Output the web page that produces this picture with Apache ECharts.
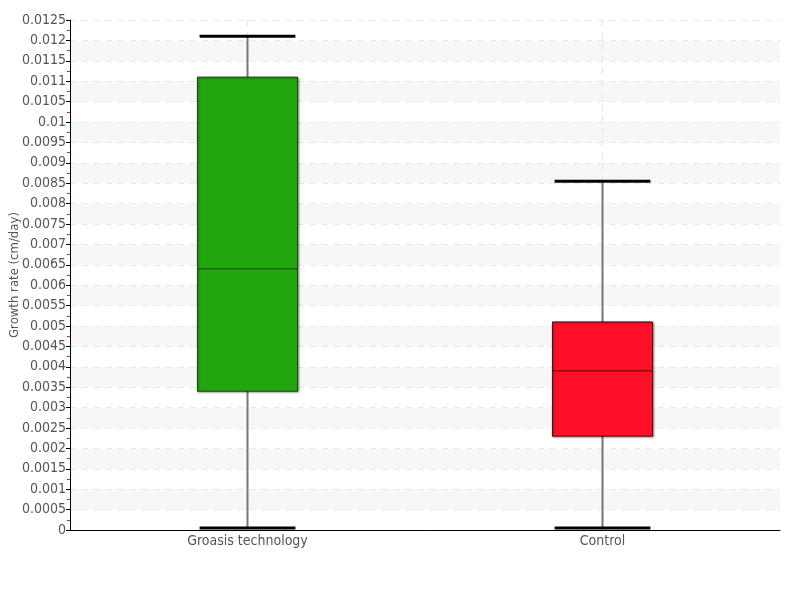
<!DOCTYPE html>
<html><head><meta charset="utf-8">
<script src="https://cdn.jsdelivr.net/npm/echarts@6/dist/echarts.min.js"></script>
<style>html,body{margin:0;padding:0;background:#fff}#c{width:800px;height:600px}</style>
</head><body><div id="c"></div>
<script>
const categories = ['Groasis technology', 'Control'];
// [min, Q1, median, Q3, max]
const groasisStats = [0.00005, 0.0034, 0.0064, 0.0111, 0.0121];
const controlStats = [0.00005, 0.0023, 0.0039, 0.0051, 0.00855];
const boxColors = ['#22a50f', '#ff0f28'];
const boxBorders = ['#134d08', '#4a0a0f'];
const yAxisName = 'Growth rate (cm/day)';

const FONT = "'Liberation Sans Narrow', 'DejaVu Sans Condensed', 'Roboto', sans-serif";
const statsList = [groasisStats, controlStats];
const seriesData = statsList.map((s, i) => [i].concat(s));

const chart = echarts.init(document.getElementById('c'), null, {renderer: 'canvas'});
chart.setOption({
  animation: false,
  backgroundColor: '#fff',
  grid: {left: 70, right: 20, top: 20, bottom: 70, containLabel: false, outerBoundsMode: 'none'},
  xAxis: {
    type: 'category',
    data: categories,
    axisLine: {lineStyle: {color: '#000', width: 1}},
    axisTick: {show: false},
    axisLabel: {color: '#555', fontFamily: FONT, fontSize: 14, margin: 4},
    splitLine: {show: true, alignWithLabel: true, lineStyle: {color: '#e6e6e6', type: [6, 6]}}
  },
  yAxis: {
    type: 'value',
    min: 0, max: 0.0125, interval: 0.0005,
    name: yAxisName,
    nameLocation: 'middle',
    nameGap: 49,
    nameMoveOverlap: false,
    nameTextStyle: {color: '#555', fontFamily: FONT, fontSize: 13},
    axisLine: {show: true, lineStyle: {color: '#000', width: 1}},
    axisTick: {show: true, length: 4, lineStyle: {color: '#000'}},
    minorTick: {show: true, splitNumber: 2, length: 3, lineStyle: {color: '#e0202a'}},
    axisLabel: {color: '#555', fontFamily: FONT, fontSize: 14, margin: 4},
    splitLine: {show: true, lineStyle: {color: '#e8e8e8', type: [6, 6]}},
    splitArea: {show: true, areaStyle: {color: ['#ffffff', '#f7f7f7']}}
  },
  series: [{
    type: 'custom',
    data: seriesData,
    encode: {x: 0, y: [1, 2, 3, 4, 5]},
    z: 3,
    renderItem: function (params, api) {
      const idx = api.value(0);
      const band = api.size([1, 0])[0];
      const bw = band * 0.282;
      const cw = band * 0.27;
      const pMin = api.coord([idx, api.value(1)]);
      const pQ1 = api.coord([idx, api.value(2)]);
      const pMed = api.coord([idx, api.value(3)]);
      const pQ3 = api.coord([idx, api.value(4)]);
      const pMax = api.coord([idx, api.value(5)]);
      const cx = pMin[0];
      const i = params.dataIndex;
      return {
        type: 'group',
        children: [
          {type: 'line', shape: {x1: cx, y1: pMin[1], x2: cx, y2: pMax[1]},
           style: {stroke: '#777', lineWidth: 2}},
          {type: 'line', shape: {x1: cx - cw / 2, y1: pMax[1], x2: cx + cw / 2, y2: pMax[1]},
           style: {stroke: '#000', lineWidth: 3}},
          {type: 'line', shape: {x1: cx - cw / 2, y1: pMin[1], x2: cx + cw / 2, y2: pMin[1]},
           style: {stroke: '#000', lineWidth: 3}},
          {type: 'rect', shape: {x: cx - bw / 2, y: pQ3[1], width: bw, height: pQ1[1] - pQ3[1]},
           style: {fill: boxColors[i], stroke: boxBorders[i], lineWidth: 1,
                   shadowColor: 'rgba(0,0,0,0.35)', shadowBlur: 2, shadowOffsetX: 1, shadowOffsetY: 1}},
          {type: 'line', shape: {x1: cx - bw / 2, y1: pMed[1], x2: cx + bw / 2, y2: pMed[1]},
           style: {stroke: boxBorders[i], lineWidth: 1}}
        ]
      };
    }
  }]
});
</script></body></html>
